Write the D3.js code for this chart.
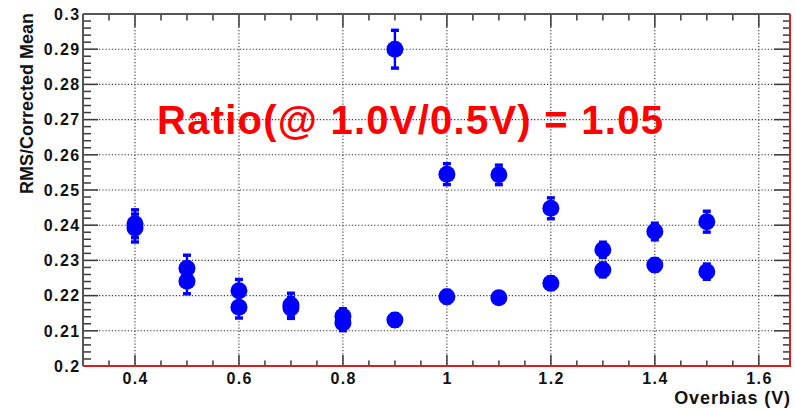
<!DOCTYPE html>
<html>
<head>
<meta charset="utf-8">
<script src="https://cdn.jsdelivr.net/npm/d3@7"></script>
<style>
  html, body { margin: 0; padding: 0; background: #fff; }
  svg { display: block; }
  text { font-family: "Liberation Sans", Arial, Helvetica, sans-serif; font-weight: bold; }
</style>
</head>
<body>
<script>
// ---- data ----
const overbias = [0.4, 0.5, 0.6, 0.7, 0.8, 0.9, 1.0, 1.1, 1.2, 1.3, 1.4, 1.5];
const seriesA = [0.2404, 0.2278, 0.2214, 0.2173, 0.2141, 0.2900, 0.2545, 0.2543, 0.2448, 0.2330, 0.2382, 0.2410];
const errorsA = [0.0040, 0.0037, 0.0032, 0.0034, 0.0022, 0.0054, 0.0030, 0.0028, 0.0030, 0.0022, 0.0024, 0.0030];
const seriesB = [0.2392, 0.2241, 0.2167, 0.2165, 0.2122, 0.2131, 0.2197, 0.2194, 0.2235, 0.2273, 0.2287, 0.2268];
const errorsB = [0.0040, 0.0036, 0.0031, 0.0030, 0.0022, 0.0018, 0.0018, 0.0015, 0.0018, 0.0020, 0.0018, 0.0022];
const xTickValues = [0.4, 0.6, 0.8, 1.0, 1.2, 1.4, 1.6];
const xTickLabels = ["0.4", "0.6", "0.8", "1", "1.2", "1.4", "1.6"];
const yTickValues = [0.2, 0.21, 0.22, 0.23, 0.24, 0.25, 0.26, 0.27, 0.28, 0.29, 0.3];
const yTickLabels = ["0.2", "0.21", "0.22", "0.23", "0.24", "0.25", "0.26", "0.27", "0.28", "0.29", "0.3"];
const xTitle = "Overbias (V)";
const yTitle = "RMS/Corrected Mean";
const annotation = "Ratio(@ 1.0V/0.5V) = 1.05";

// ---- layout ----
const W = 796, H = 409;
const L = 83, R = 790, T = 14, B = 366;

const svg = d3.select("body").append("svg").attr("width", W).attr("height", H);
svg.append("rect").attr("width", W).attr("height", H).attr("fill", "#fff");

const x = d3.scaleLinear().domain([0.3, 1.66]).range([L, R]);
const y = d3.scaleLinear().domain([0.2, 0.3]).range([B, T]);

const grid = svg.append("g");
grid.selectAll("line.vg").data(xTickValues).enter().append("line")
  .attr("x1", d => x(d)).attr("x2", d => x(d)).attr("y1", T).attr("y2", B)
  .attr("stroke", "#333").attr("stroke-width", 1.1).attr("stroke-dasharray", "1.2,2");
grid.selectAll("line.hg").data(yTickValues.slice(1, -1)).enter().append("line")
  .attr("y1", d => y(d)).attr("y2", d => y(d)).attr("x1", L).attr("x2", R)
  .attr("stroke", "#333").attr("stroke-width", 1.1).attr("stroke-dasharray", "1.2,2");

// ticks
const tickCol = "#3a3a3a";
const ax = svg.append("g").attr("stroke", tickCol).attr("stroke-width", 1.5);
const xMinor = d3.range(6, 33).map(i => i * 0.05).filter(v => v >= 0.3 && v <= 1.66);
xMinor.forEach(v => {
  const major = xTickValues.some(m => Math.abs(m - v) < 1e-6);
  const lb = major ? 11 : 5.5, lt = major ? 13 : 6.5;
  ax.append("line").attr("x1", x(v)).attr("x2", x(v)).attr("y1", B).attr("y2", B - lb);
  ax.append("line").attr("x1", x(v)).attr("x2", x(v)).attr("y1", T).attr("y2", T + lt);
});
const yMinor = d3.range(0, 51).map(i => 0.2 + i * 0.002);
yMinor.forEach((v, i) => {
  const major = i % 5 === 0;
  const ll = major ? 15 : 8, lr = major ? 16 : 7;
  ax.append("line").attr("y1", y(v)).attr("y2", y(v)).attr("x1", L).attr("x2", L + ll);
  ax.append("line").attr("y1", y(v)).attr("y2", y(v)).attr("x1", R).attr("x2", R - lr);
});

// frame
svg.append("line").attr("x1", L).attr("x2", L).attr("y1", T).attr("y2", B).attr("stroke", "#555").attr("stroke-width", 2);
svg.append("line").attr("x1", L).attr("x2", R).attr("y1", T).attr("y2", T).attr("stroke", "#555").attr("stroke-width", 2);
svg.append("line").attr("x1", L).attr("x2", R + 1).attr("y1", B).attr("y2", B).attr("stroke", "#d42020").attr("stroke-width", 2);
svg.append("line").attr("x1", R).attr("x2", R).attr("y1", T).attr("y2", B).attr("stroke", "#d42020").attr("stroke-width", 2);

// tick labels
svg.append("g").selectAll("text").data(xTickValues).enter().append("text")
  .attr("x", d => x(d) + 0.7).attr("y", 384)
  .attr("text-anchor", "middle").attr("font-size", 16).attr("letter-spacing", 1.4)
  .attr("fill", "#111").text((d, i) => xTickLabels[i]);
svg.append("g").selectAll("text").data(yTickValues).enter().append("text")
  .attr("x", 80.5).attr("y", d => y(d)).attr("dy", "0.36em")
  .attr("text-anchor", "end").attr("font-size", 16).attr("letter-spacing", 1.4)
  .attr("fill", "#111").text((d, i) => yTickLabels[i]);

// axis titles
svg.append("text").attr("x", 791).attr("y", 404).attr("text-anchor", "end")
  .attr("font-size", 18).attr("letter-spacing", 0.9).attr("fill", "#111").text(xTitle);
svg.append("text").attr("transform", "translate(33,13) rotate(-90)")
  .attr("text-anchor", "end").attr("font-size", 18).attr("fill", "#111").text(yTitle);

// data points
const points = [];
overbias.forEach((v, i) => {
  points.push({ x: v, y: seriesA[i], e: errorsA[i] });
  points.push({ x: v, y: seriesB[i], e: errorsB[i] });
});
const blue = "#0000ff";
const eb = svg.append("g");
points.forEach(p => {
  const cx = x(p.x), y1 = y(p.y + p.e), y2 = y(p.y - p.e);
  eb.append("line").attr("x1", cx).attr("x2", cx).attr("y1", y1).attr("y2", y2)
    .attr("stroke", blue).attr("stroke-width", 2.4);
  eb.append("rect").attr("x", cx - 4).attr("y", y1 - 1.6).attr("width", 8).attr("height", 3.4).attr("fill", blue);
  eb.append("rect").attr("x", cx - 4).attr("y", y2 - 1.8).attr("width", 8).attr("height", 3.4).attr("fill", blue);
});
svg.append("g").selectAll("circle").data(points).enter().append("circle")
  .attr("cx", d => x(d.x)).attr("cy", d => y(d.y)).attr("r", 8.5).attr("fill", blue);

// annotation
svg.append("text").attr("x", 157).attr("y", 133.5)
  .attr("font-size", 40).attr("letter-spacing", 1.25).attr("fill", "#ff0000").text(annotation);
</script>
</body>
</html>
